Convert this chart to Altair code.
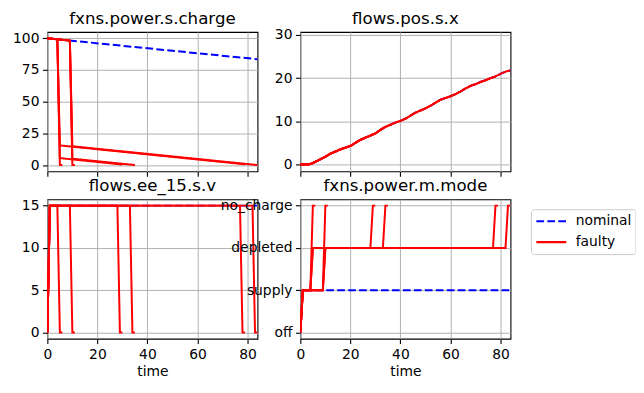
import altair as alt
import pandas as pd

# ---------------- data ----------------
TIME_TICKS = [0, 20, 40, 60, 80]
MODE_LEVELS = ["no_charge", "depleted", "supply", "off"]

scenario_ids = ["nominal", "nocharge_t4", "nocharge_t9", "low_t4", "low_t9", "depl_t4", "depl_t9"]
scenario_kind = ["nominal", "faulty", "faulty", "faulty", "faulty", "faulty", "faulty"]

# fxns.power.s.charge  (time, value) per scenario
charge_time = {
    "nominal":     [0, 84],
    "nocharge_t4": [0, 4, 5, 6],
    "nocharge_t9": [0, 9, 10, 11],
    "low_t4":      [0, 4, 5, 30],
    "low_t9":      [0, 9, 10, 35],
    "depl_t4":     [0, 4, 5, 79],
    "depl_t9":     [0, 9, 10, 84],
}
charge_value = {
    "nominal":     [100, 83.5],
    "nocharge_t4": [100, 99.2, 0, 0],
    "nocharge_t9": [100, 98.2, 0, 0],
    "low_t4":      [100, 99.2, 5.5, 0.4],
    "low_t9":      [100, 98.2, 5.0, 0],
    "depl_t4":     [100, 99.2, 15.5, 0.6],
    "depl_t9":     [100, 98.2, 14.8, 0],
}

# flows.ee_15.s.v
ee_time = {
    "nominal":     [0, 1, 84],
    "nocharge_t4": [0, 1, 4, 5, 6],
    "nocharge_t9": [0, 1, 9, 10, 11],
    "low_t4":      [0, 1, 28, 29, 30],
    "low_t9":      [0, 1, 33, 34, 35],
    "depl_t4":     [0, 1, 77, 78, 79],
    "depl_t9":     [0, 1, 82, 83, 84],
}
ee_value = {
    "nominal":     [0, 15, 15],
    "nocharge_t4": [0, 15, 15, 0, 0],
    "nocharge_t9": [0, 15, 15, 0, 0],
    "low_t4":      [0, 15, 15, 0, 0],
    "low_t9":      [0, 15, 15, 0, 0],
    "depl_t4":     [0, 15, 15, 0, 0],
    "depl_t9":     [0, 15, 15, 0, 0],
}

# fxns.power.m.mode
mode_time = {
    "nominal":     [0, 1, 84],
    "nocharge_t4": [0, 1, 4, 5, 6],
    "nocharge_t9": [0, 1, 9, 10, 11],
    "low_t4":      [0, 1, 4, 5, 28, 29, 30],
    "low_t9":      [0, 1, 9, 10, 33, 34, 35],
    "depl_t4":     [0, 1, 4, 5, 77, 78, 79],
    "depl_t9":     [0, 1, 9, 10, 82, 83, 84],
}
mode_value = {
    "nominal":     ["off", "supply", "supply"],
    "nocharge_t4": ["off", "supply", "supply", "no_charge", "no_charge"],
    "nocharge_t9": ["off", "supply", "supply", "no_charge", "no_charge"],
    "low_t4":      ["off", "supply", "supply", "depleted", "depleted", "no_charge", "no_charge"],
    "low_t9":      ["off", "supply", "supply", "depleted", "depleted", "no_charge", "no_charge"],
    "depl_t4":     ["off", "supply", "supply", "depleted", "depleted", "no_charge", "no_charge"],
    "depl_t9":     ["off", "supply", "supply", "depleted", "depleted", "no_charge", "no_charge"],
}

# flows.pos.s.x (same path in every scenario, each run ends at its own end time)
pos_time = [0, 2, 4, 6, 8, 10, 12, 14, 16, 18, 20, 22, 24, 26, 28, 30, 32, 34, 36, 38, 40, 42,
            44, 46, 48, 50, 52, 54, 56, 58, 60, 62, 64, 66, 68, 70, 72, 74, 76, 78, 80, 82, 84]
pos_value = [0, 0, 0.1, 0.6, 1.2, 1.8, 2.5, 3.0, 3.5, 3.9, 4.3, 5.0, 5.7, 6.2, 6.7, 7.2, 8.0, 8.7,
             9.2, 9.7, 10.1, 10.6, 11.3, 12.0, 12.5, 13.0, 13.6, 14.3, 15.0, 15.4, 15.8, 16.3,
             16.9, 17.6, 18.2, 18.6, 19.1, 19.5, 20.0, 20.4, 21.0, 21.5, 21.8]


def build(times, values, field="value"):
    rows = []
    for sid, kind in zip(scenario_ids, scenario_kind):
        for t, v in zip(times[sid], values[sid]):
            rows.append({"scenario": sid, "kind": kind, "time": t, field: v})
    return pd.DataFrame(rows)


end_time = {sid: ee_time[sid][-1] for sid in scenario_ids}
pos_rows = []
for sid, kind in zip(scenario_ids, scenario_kind):
    for t, v in zip(pos_time, pos_value):
        if t <= end_time[sid]:
            pos_rows.append({"scenario": sid, "kind": kind, "time": t, "value": v})
pos_df = pd.DataFrame(pos_rows)

charge_df = build(charge_time, charge_value)
ee_df = build(ee_time, ee_value)
mode_df = build(mode_time, mode_value, field="mode")

# ---------------- chart ----------------
W, H = 211, 140

color = alt.Color("kind:N", scale=alt.Scale(domain=["nominal", "faulty"], range=["#0000ff", "#ff0000"]),
                  legend=alt.Legend(title=None))
dash = alt.StrokeDash("kind:N", scale=alt.Scale(domain=["nominal", "faulty"], range=[[7.7, 3.3], [1, 0]]),
                      legend=alt.Legend(title=None))


def panel(df, title, y, bottom, title_offset=3.7):
    xaxis = alt.Axis(values=TIME_TICKS, labels=bottom, title="time" if bottom else None)
    base = alt.Chart(df).mark_line(strokeWidth=2.0, clip=True).encode(
        x=alt.X("time:Q", scale=alt.Scale(domain=[0, 84], nice=False, zero=False), axis=xaxis),
        y=y,
        color=color,
        strokeDash=dash,
        detail="scenario:N",
        order=alt.Order("time:Q"),
    )
    return alt.layer(
        base.transform_filter("datum.kind == 'nominal'"),
        base.transform_filter("datum.kind == 'faulty'"),
    ).properties(width=W, height=H, title=alt.TitleParams(title, offset=title_offset))


p1 = panel(charge_df, "fxns.power.s.charge",
           alt.Y("value:Q", scale=alt.Scale(domain=[-5, 105], nice=False, zero=False),
                 axis=alt.Axis(values=[0, 25, 50, 75, 100], title=None)), False)
p2 = panel(pos_df, "flows.pos.s.x",
           alt.Y("value:Q", scale=alt.Scale(domain=[-1.6, 30.7], nice=False, zero=False),
                 axis=alt.Axis(values=[0, 10, 20, 30], title=None)), False, title_offset=0.3)
p3 = panel(ee_df, "flows.ee_15.s.v",
           alt.Y("value:Q", scale=alt.Scale(domain=[-0.75, 15.75], nice=False, zero=False),
                 axis=alt.Axis(values=[0, 5, 10, 15], title=None)), True)
p4 = panel(mode_df, "fxns.power.m.mode",
           alt.Y("mode:N", scale=alt.Scale(domain=MODE_LEVELS, padding=0.15),
                 axis=alt.Axis(title=None)), True)

chart = alt.concat(p1, p2, p3, p4, columns=2, spacing={"row": 28, "column": 43}, bounds="flush").configure(
    font="DejaVu Sans",
    padding={"left": 3.5, "top": 1.3, "right": 0, "bottom": 5},
).configure_view(
    stroke="black", strokeWidth=1.1
).configure_axis(
    domain=False, grid=True, gridColor="#b0b0b0", gridWidth=1.0,
    tickColor="black", tickSize=4.9, tickWidth=1.1,
    labelFont="DejaVu Sans", labelFontSize=13.9, labelColor="black", labelPadding=3.5,
    labelFlush=False, labelOverlap=False,
    titleFont="DejaVu Sans", titleFontSize=13.9, titleFontWeight="normal", titleColor="black", titlePadding=4,
).configure_title(
    font="DejaVu Sans", fontSize=16.7, fontWeight="normal", color="black",
    frame="group", baseline="top",
).configure_legend(
    orient="none", legendX=485.5, legendY=178,
    strokeColor="#cccccc", fillColor="white", cornerRadius=3, padding=4,
    labelFont="DejaVu Sans", labelFontSize=13.9, labelColor="black", labelOffset=8,
    symbolType="stroke", symbolSize=900, symbolStrokeWidth=2.1, clipHeight=16, rowPadding=5,
)

chart.save("out.html", embed_options={"renderer": "svg", "actions": False})
